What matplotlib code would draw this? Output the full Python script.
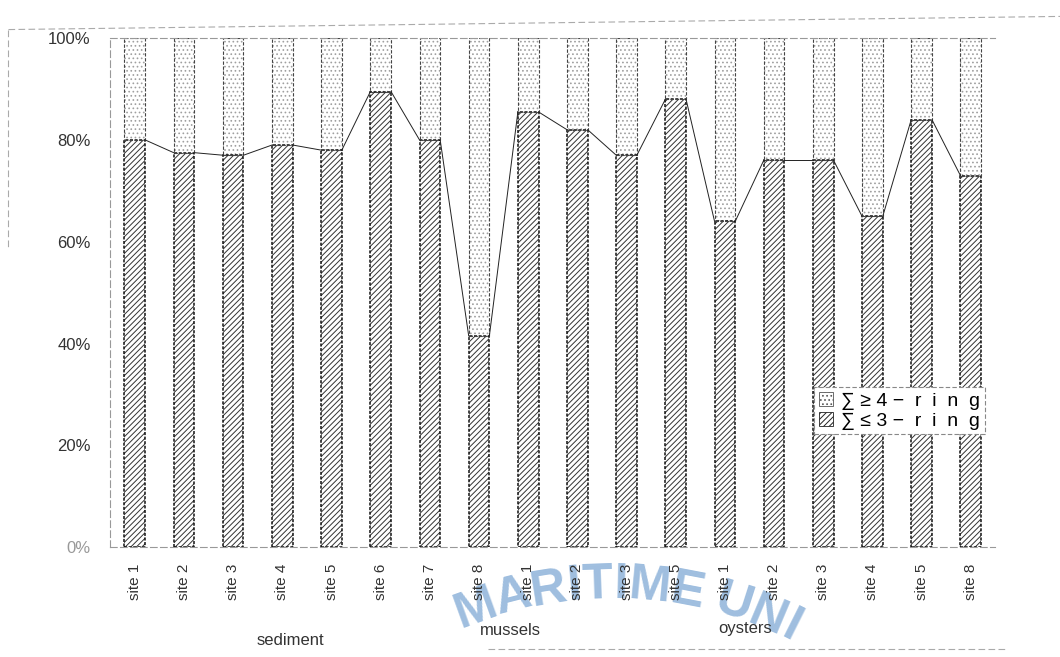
import matplotlib.pyplot as plt
import numpy as np
from matplotlib.patches import Patch

plt.rcParams["font.family"] = ["Liberation Sans", "DejaVu Sans"]
plt.rcParams["hatch.linewidth"] = 0.7

# share (%) of low-ring PAHs per sample, grouped by matrix
groups = ["sediment", "mussels", "oysters"]
sediment_sites = ["site 1", "site 2", "site 3", "site 4", "site 5", "site 6", "site 7", "site 8"]
mussel_sites = ["site 1", "site 2", "site 3", "site 5"]
oyster_sites = ["site 1", "site 2", "site 3", "site 4", "site 5", "site 8"]
sediment_le3 = [80, 77.5, 77, 79, 78, 89.5, 80, 41.5]
mussel_le3 = [85.5, 82, 77, 88]
oyster_le3 = [64, 76, 76, 65, 84, 73]

labels = sediment_sites + mussel_sites + oyster_sites
le3 = np.array(sediment_le3 + mussel_le3 + oyster_le3) / 100
ge4 = 1 - le3
x = np.arange(len(labels))
w = 0.42

W, H = 1060, 657
fig = plt.figure(figsize=(W / 100, H / 100), dpi=100)
ax = fig.add_axes([0.104, 0.167, 0.835, 0.775])

# fills first, outlines drawn over them
ax.bar(x, le3, w, color="white", hatch="//////", edgecolor="#333", lw=0)
ax.bar(x, ge4, w, bottom=le3, color="white", hatch="....", edgecolor="#a0a0a0", lw=0)
ax.bar(x, le3, w, fill=False, edgecolor="#111", lw=1.1, ls=(0, (2, 1)))
ax.bar(x, ge4, w, bottom=le3, fill=False, edgecolor="#444", lw=0.8, ls=(0, (3, 1.5)))

# series lines joining the tops of the lower segments
for i in range(len(x) - 1):
    ax.plot([x[i] + w / 2, x[i + 1] - w / 2], [le3[i], le3[i + 1]], color="#222", lw=0.7)

ax.set_xlim(-0.5, len(x) - 0.5)
ax.set_ylim(0, 1)
ax.set_yticks(np.linspace(0, 1, 6))
ax.set_yticklabels(["0%", "20%", "40%", "60%", "80%", "100%"], fontsize=12, color="#333")
ax.get_yticklabels()[0].set_color("#999")
ax.set_xticks(x)
ax.set_xticklabels(labels, rotation=90, fontsize=11, color="#333")
ax.tick_params(axis="x", length=0, pad=12)
ax.tick_params(axis="y", length=0, pad=14)
ax.spines["right"].set_visible(False)
for s in ["left", "bottom", "top"]:
    ax.spines[s].set_color("#999")
    ax.spines[s].set_linewidth(0.8)
    ax.spines[s].set_linestyle((0, (6, 3)))

# group names under the site labels
fig.text(0.274, 0.018, groups[0], fontsize=12, color="#333", ha="center")
fig.text(0.482, 0.033, groups[1], fontsize=12, color="#333", ha="center")
fig.text(0.703, 0.036, groups[2], fontsize=12, color="#333", ha="center")

handles = [
    Patch(facecolor="white", hatch="....", edgecolor="#555", lw=0.6),
    Patch(facecolor="white", hatch="//////", edgecolor="#222", lw=0.6),
]
leg = ax.legend(
    handles,
    ["\u2211 \u2265 4 \u2212  r  i  n  g", "\u2211 \u2264 3 \u2212  r  i  n  g"],
    loc="upper right",
    bbox_to_anchor=(0.938, 0.425),
    bbox_transform=fig.transFigure,
    fontsize=14,
    handlelength=0.7,
    handleheight=0.7,
    handletextpad=0.4,
    labelspacing=0.1,
    borderpad=0.25,
    fancybox=False,
    framealpha=1,
)
leg.get_frame().set_edgecolor("#888")
leg.get_frame().set_linestyle((0, (4, 2)))
leg.get_frame().set_linewidth(0.8)

# outer chart-area border
border = dict(color="#aaa", lw=0.8, ls=(0, (6, 3)), transform=fig.transFigure)
fig.add_artist(plt.Line2D([0.008, 1.0], [0.955, 0.975], **border))
fig.add_artist(plt.Line2D([0.008, 0.008], [0.955, 0.62], **border))
fig.add_artist(plt.Line2D([0.46, 0.95], [0.012, 0.012], **border))

# arched watermark behind the tick labels; letters spaced by advance width (px)
stamp = "MARITIME UNI"
advance = np.array([42, 36, 36, 16, 31, 16, 42, 33, 14, 36, 36, 16], dtype=float)
s = np.cumsum(advance) - advance / 2
s -= s[-1] / 2 + advance[-1] / 2 - advance[0] / 2
cx, cy, r = 612, 985, 400
for ch, si in zip(stamp, s):
    a = si / r
    px = cx + r * np.sin(a)
    py = cy - r * np.cos(a)
    fig.text(px / W, 1 - py / H, ch, fontsize=36, fontweight="bold", color="#9fbedf",
             rotation=-np.rad2deg(a), ha="center", va="center", zorder=-1)

fig.savefig("out.png", dpi=100)
